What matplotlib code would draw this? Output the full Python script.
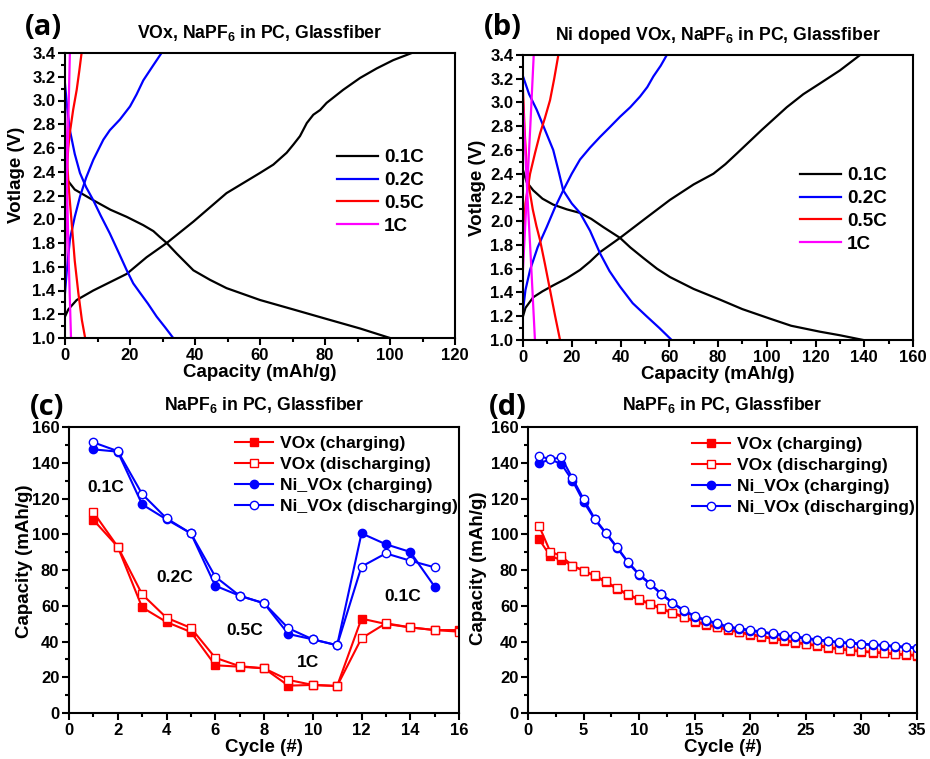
import matplotlib
matplotlib.use("Agg")
import matplotlib.pyplot as plt
from matplotlib.ticker import MultipleLocator, FormatStrFormatter

plt.rcParams["font.family"] = ["Liberation Sans", "DejaVu Sans"]
plt.rcParams["font.weight"] = "bold"
plt.rcParams["mathtext.fontset"] = "custom"
plt.rcParams["mathtext.rm"] = "Liberation Sans:bold"
plt.rcParams["mathtext.bf"] = "Liberation Sans:bold"

# ---- panel (a): VOx voltage profiles ----
a_c01_x = [0, 1, 3.6, 8.7, 19, 25.1, 31.3, 39.5, 49.7, 60, 64.1, 68.2, 70.3, 72.3, 74.4, 76.4, 78.5,
           80.5, 85.6, 90.8, 95.9, 101, 106.7]
a_c01_v = [1.18, 1.24, 1.32, 1.40, 1.54, 1.68, 1.80, 1.98, 2.22, 2.39, 2.46, 2.56, 2.63, 2.70, 2.81, 2.88, 2.92,
           2.98, 3.09, 3.19, 3.27, 3.34, 3.40]
a_d01_x = [0, 1, 3, 8.7, 14, 19, 24.1, 27.2, 29.2, 31.3, 34.4, 39.5, 44.6, 49.7, 60, 70.3, 80.5, 90.8, 100]
a_d01_v = [2.40, 2.32, 2.25, 2.16, 2.08, 2.02, 1.95, 1.90, 1.85, 1.80, 1.71, 1.57, 1.49, 1.42, 1.32, 1.24, 1.16,
           1.08, 1.0]
a_c02_x = [0, 0.5, 1.5, 3, 4.6, 6.5, 8.7, 11.8, 13.8, 16.9, 20, 22, 24.1, 27, 29.7]
a_c02_v = [1.38, 1.55, 1.83, 2.02, 2.19, 2.35, 2.50, 2.67, 2.75, 2.84, 2.95, 3.05, 3.17, 3.29, 3.40]
a_d02_x = [0, 0.7, 1.5, 3, 4.6, 6.5, 8.7, 11, 13.8, 16.5, 19, 21, 23.1, 25.5, 28.2, 30.8, 33.3]
a_d02_v = [3.14, 2.93, 2.75, 2.55, 2.39, 2.27, 2.16, 2.03, 1.88, 1.72, 1.57, 1.46, 1.38, 1.29, 1.18, 1.09, 1.0]
a_c05_x = [0, 0.3, 0.5, 1.0, 1.5, 2.5, 3.6, 4.4, 5.1]
a_c05_v = [1.85, 2.1, 2.39, 2.6, 2.73, 2.92, 3.09, 3.25, 3.40]
a_d05_x = [0, 0.5, 1.2, 2.05, 3.0, 4.1, 5.2, 6.2]
a_d05_v = [2.75, 2.55, 2.25, 1.97, 1.65, 1.38, 1.15, 1.0]
a_c1_x = [0, 0.5, 1.0, 1.5]
a_c1_v = [1.5, 2.2, 2.8, 3.4]
a_d1_x = [0, 0.6, 1.2, 1.85]
a_d1_v = [3.0, 2.3, 1.6, 1.0]

# ---- panel (b): Ni doped VOx voltage profiles ----
b_c01_x = [0, 1, 4.2, 8, 12.4, 18, 23.4, 27.5, 31.6, 39.8, 50, 60.3, 70, 78.1, 83, 87.7, 98, 108.2,
           115, 121.8, 130, 138.3]
b_c01_v = [1.20, 1.27, 1.36, 1.41, 1.46, 1.52, 1.59, 1.66, 1.74, 1.86, 2.02, 2.18, 2.31, 2.40, 2.48, 2.57,
           2.77, 2.96, 3.07, 3.16, 3.27, 3.40]
b_d01_x = [0, 1.5, 4.2, 8, 12.4, 18, 23.4, 28, 33, 39.8, 44, 49.4, 55, 60.3, 70, 80.8, 90, 101.3,
           110, 121.8, 130, 139.6]
b_d01_v = [2.43, 2.33, 2.26, 2.19, 2.14, 2.10, 2.07, 2.02, 1.95, 1.86, 1.78, 1.69, 1.60, 1.53, 1.43, 1.34,
           1.26, 1.18, 1.12, 1.07, 1.04, 1.0]
b_c02_x = [0, 1, 2.9, 6, 9.7, 13, 16.5, 20, 23.4, 27.5, 31.6, 35.5, 39.8, 44, 48, 51, 53.5, 56.5, 59]
b_c02_v = [1.25, 1.42, 1.59, 1.78, 1.95, 2.11, 2.26, 2.40, 2.52, 2.62, 2.71, 2.79, 2.88, 2.96, 3.05, 3.13,
           3.22, 3.31, 3.40]
b_d02_x = [0, 2.5, 5.6, 9, 12.4, 14.5, 16.5, 20, 23.4, 27.5, 31.6, 35.5, 39.8, 45, 50.7, 56, 61]
b_d02_v = [3.22, 3.07, 2.94, 2.77, 2.60, 2.43, 2.26, 2.15, 2.07, 1.92, 1.73, 1.58, 1.45, 1.31, 1.20, 1.10, 1.0]
b_c05_x = [0, 1, 2.9, 5, 7, 9, 11.1, 12.8, 14.5]
b_c05_v = [1.8, 2.15, 2.40, 2.58, 2.74, 2.87, 3.02, 3.20, 3.40]
b_d05_x = [0, 0.7, 1.5, 2.7, 4, 5.5, 7, 9, 11.1, 13.2, 15.2]
b_d05_v = [3.1, 2.75, 2.46, 2.26, 2.1, 1.96, 1.84, 1.64, 1.42, 1.20, 1.0]
b_c1_x = [0, 1.5, 3, 4.4]
b_c1_v = [1.6, 2.2, 2.8, 3.4]
b_d1_x = [0, 1.6, 3.3, 4.9]
b_d1_v = [3.0, 2.3, 1.65, 1.0]

rates = ["0.1C", "0.2C", "0.5C", "1C"]
rate_colors = ["black", "#0000ff", "#ff0000", "#ff00ff"]

# ---- panel (c): rate capability ----
c_cycles_ni = list(range(1, 16))
c_cycles_v = list(range(1, 17))
c_v_chg = [108.0, 93.0, 59.1, 50.9, 45.3, 26.7, 25.9, 25.0, 15.3, 15.7, 15.1, 52.8, 49.8, 47.9, 46.4, 46.4]
c_v_dis = [112.3, 93.0, 66.4, 53.3, 47.6, 30.9, 26.2, 25.0, 18.5, 15.7, 15.1, 41.8, 50.2, 47.9, 46.4, 45.5]
c_ni_chg = [147.5, 146.2, 116.7, 108.3, 100.5, 71.2, 65.6, 61.4, 44.2, 41.2, 37.9, 100.5, 94.4, 90.1, 70.7]
c_ni_dis = [151.4, 146.5, 122.5, 108.9, 100.5, 76.3, 65.6, 61.4, 47.4, 41.2, 37.9, 81.9, 89.3, 85.2, 81.5]
c_rate_labels = ["0.1C", "0.2C", "0.5C", "1C", "0.1C"]
c_rate_x = [1.5, 4.35, 7.2, 9.8, 13.7]
c_rate_y = [126, 76, 46, 28, 65]

# ---- panel (d): cycling ----
d_cycles = list(range(1, 36))
d_v_chg = [97.2, 87.8, 85.6, 82.4, 79.6, 76.6, 73.1, 69.4, 66.0, 63.2, 60.8, 58.2, 55.8, 53.5, 51.1,
           49.2, 47.9, 46.4, 45.1, 43.6, 42.7, 41.4, 40.5, 39.3, 38.4, 37.5, 36.5, 35.6, 34.9, 34.3,
           33.8, 33.4, 32.8, 32.4, 31.9]
d_v_dis = [104.6, 90.3, 87.8, 82.4, 79.6, 77.0, 73.6, 69.9, 66.4, 63.7, 61.2, 58.6, 56.2, 53.9, 51.5,
           49.6, 48.3, 46.8, 45.5, 44.0, 43.1, 41.8, 40.9, 39.7, 38.8, 37.9, 36.9, 36.0, 35.3, 34.7,
           34.2, 33.8, 33.2, 32.8, 32.4]
d_ni_chg = [139.7, 141.9, 139.3, 130.0, 118.2, 108.3, 100.5, 92.5, 84.1, 77.2, 72.0, 66.4, 61.4, 57.2, 53.9,
            51.7, 49.8, 47.9, 47.0, 46.1, 45.1, 44.2, 43.3, 42.5, 41.6, 40.7, 40.1, 39.3, 39.0, 38.4,
            38.0, 37.7, 37.1, 36.7, 36.2]
d_ni_dis = [143.8, 141.9, 143.0, 131.3, 119.7, 108.8, 100.9, 92.9, 84.5, 77.6, 72.4, 66.8, 61.8, 57.6, 54.3,
            52.1, 50.2, 48.3, 47.4, 46.5, 45.5, 44.6, 43.7, 42.9, 42.0, 41.1, 40.5, 39.7, 39.4, 38.8,
            38.4, 38.1, 37.5, 37.1, 36.6]

W, H = 930, 759
fig = plt.figure(figsize=(9.3, 7.59), dpi=100)


def px_axes(left, top, right, bottom):
    return fig.add_axes([left / W, 1 - bottom / H, (right - left) / W, (bottom - top) / H])


def fpos(x, y):
    return (x / W, 1 - y / H)


def style(ax):
    for s in ax.spines.values():
        s.set_linewidth(1.5)
    ax.tick_params(which="both", direction="out", width=1.5, labelsize=12, pad=2)
    ax.tick_params(which="major", length=5)
    ax.tick_params(which="minor", length=3)
    for lab in ax.get_xticklabels() + ax.get_yticklabels():
        lab.set_fontweight("bold")


ax_a = px_axes(65, 53, 455, 338)
ax_b = px_axes(523, 55, 913, 340)
ax_c = px_axes(69, 427, 459, 713)
ax_d = px_axes(528, 427, 917, 713)

profiles = [
    (ax_a, [(a_c01_x, a_c01_v, a_d01_x, a_d01_v), (a_c02_x, a_c02_v, a_d02_x, a_d02_v),
            (a_c05_x, a_c05_v, a_d05_x, a_d05_v), (a_c1_x, a_c1_v, a_d1_x, a_d1_v)],
     120, r"VOx, NaPF$_{6}$ in PC, Glassfiber", (337, 149), (-0.103, 0.572)),
    (ax_b, [(b_c01_x, b_c01_v, b_d01_x, b_d01_v), (b_c02_x, b_c02_v, b_d02_x, b_d02_v),
            (b_c05_x, b_c05_v, b_d05_x, b_d05_v), (b_c1_x, b_c1_v, b_d1_x, b_d1_v)],
     160, r"Ni doped VOx, NaPF$_{6}$ in PC, Glassfiber", (800, 167), (-0.095, 0.535)),
]

for ax, curves, xmax, title, leg_xy, ylab_xy in profiles:
    handles = []
    for (cx, cv, dx, dv), lab, col in zip(curves, rates, rate_colors):
        h, = ax.plot(cx, cv, color=col, lw=1.6, label=lab)
        ax.plot(dx, dv, color=col, lw=1.6)
        handles.append(h)
    ax.set_xlim(0, xmax)
    ax.set_ylim(1.0, 3.4)
    ax.xaxis.set_major_locator(MultipleLocator(20))
    ax.xaxis.set_minor_locator(MultipleLocator(10))
    ax.yaxis.set_major_locator(MultipleLocator(0.2))
    ax.yaxis.set_minor_locator(MultipleLocator(0.1))
    ax.yaxis.set_major_formatter(FormatStrFormatter("%.1f"))
    ax.set_xlabel("Capacity (mAh/g)", fontsize=13.5, fontweight="bold", labelpad=1)
    ax.set_ylabel("Votlage (V)", fontsize=13.5, fontweight="bold")
    ax.yaxis.set_label_coords(*ylab_xy)
    ax.set_title(title, fontsize=12.7, fontweight="bold", pad=11)
    style(ax)
    ax.legend(handles=handles, loc="upper left", bbox_to_anchor=fpos(*leg_xy),
              bbox_transform=fig.transFigure, frameon=False, borderpad=0, borderaxespad=0,
              handlelength=2.15, handletextpad=0.35, labelspacing=0.3,
              prop={"weight": "bold", "size": 13.6})

cycling = [
    (ax_c, c_cycles_v, c_v_chg, c_v_dis, c_cycles_ni, c_ni_chg, c_ni_dis, 16, 2, 1, (235, 436), (-0.092, 0.529)),
    (ax_d, d_cycles, d_v_chg, d_v_dis, d_cycles, d_ni_chg, d_ni_dis, 35, 5, 2.5, (692, 437), (-0.106, 0.507)),
]

for ax, xv, vc, vd, xn, nc, nd, xmax, maj, mnr, leg_xy, ylab_xy in cycling:
    ax.plot(xv, vc, color="#ff0000", lw=1.5, marker="s", ms=5.5, label="VOx (charging)")
    ax.plot(xv, vd, color="#ff0000", lw=1.5, marker="s", ms=5.5, mfc="white", label="VOx (discharging)")
    ax.plot(xn, nc, color="#0000ff", lw=1.5, marker="o", ms=6, label="Ni_VOx (charging)")
    ax.plot(xn, nd, color="#0000ff", lw=1.5, marker="o", ms=6, mfc="white", label="Ni_VOx (discharging)")
    ax.set_xlim(0, xmax)
    ax.set_ylim(0, 160)
    ax.xaxis.set_major_locator(MultipleLocator(maj))
    ax.xaxis.set_minor_locator(MultipleLocator(mnr))
    ax.yaxis.set_major_locator(MultipleLocator(20))
    ax.yaxis.set_minor_locator(MultipleLocator(10))
    ax.set_xlabel("Cycle (#)", fontsize=13.5, fontweight="bold", labelpad=1)
    ax.set_ylabel("Capacity (mAh/g)", fontsize=13.5, fontweight="bold")
    ax.yaxis.set_label_coords(*ylab_xy)
    ax.set_title(r"NaPF$_{6}$ in PC, Glassfiber", fontsize=12.7, fontweight="bold", pad=12)
    style(ax)
    ax.legend(loc="upper left", bbox_to_anchor=fpos(*leg_xy), bbox_transform=fig.transFigure,
              frameon=False, borderpad=0, borderaxespad=0, handlelength=2.15, handletextpad=0.4,
              labelspacing=0.33, prop={"weight": "bold", "size": 12.6})

for lab, x, y in zip(c_rate_labels, c_rate_x, c_rate_y):
    ax_c.text(x, y, lab, ha="center", va="center", fontsize=12.5, fontweight="bold")

for lab, x, y in [("(a)", 25, 13), ("(b)", 484, 13), ("(c)", 30, 393), ("(d)", 489, 393)]:
    fig.text(*fpos(x, y), lab, ha="left", va="top", fontsize=21, fontweight="bold",
             family=["Open Sans", "DejaVu Sans"])

fig.savefig("out.png", dpi=100)
